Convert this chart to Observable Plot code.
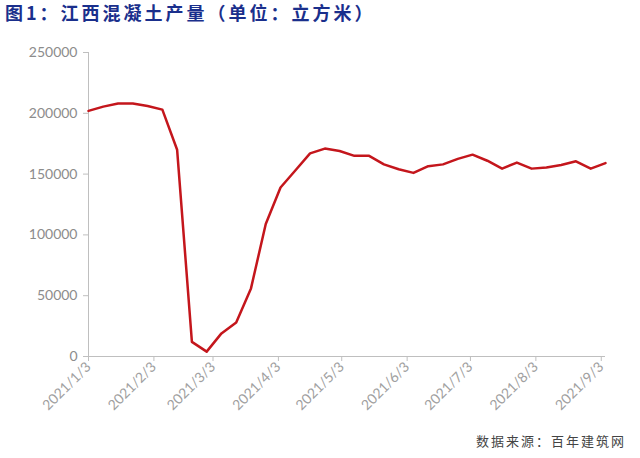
<!DOCTYPE html>
<html><head><meta charset="utf-8">
<script src="https://cdn.jsdelivr.net/npm/d3@7"></script>
<script src="https://cdn.jsdelivr.net/npm/@observablehq/plot@0.6"></script>
<style>
body{margin:0;background:#fff;width:640px;height:458px;overflow:hidden;font-family:Lato,sans-serif;}
#title{height:28px;line-height:24px;padding-left:5px;font-family:"Noto Sans CJK SC";font-weight:bold;font-size:18px;color:#1a2f8c;letter-spacing:3px;white-space:nowrap;}
#chart{height:400px;}
#caption{text-align:right;padding-right:14px;font-family:"Noto Sans CJK SC";font-size:13px;color:#444;letter-spacing:2px;margin-top:3px;}
</style></head><body>
<div id="title">图1：江西混凝土产量（单位：立方米）</div>
<div id="chart"></div>
<div id="caption">数据来源：百年建筑网</div>
<script>
const dates = ["2021-01-03","2021-01-10","2021-01-17","2021-01-24","2021-01-31","2021-02-07","2021-02-14","2021-02-21","2021-02-28","2021-03-07","2021-03-14","2021-03-21","2021-03-28","2021-04-04","2021-04-11","2021-04-18","2021-04-25","2021-05-02","2021-05-09","2021-05-16","2021-05-23","2021-05-30","2021-06-06","2021-06-13","2021-06-20","2021-06-27","2021-07-04","2021-07-11","2021-07-18","2021-07-25","2021-08-01","2021-08-08","2021-08-15","2021-08-22","2021-08-29","2021-09-05"];
const values = [202000,205500,208000,208000,206000,203000,170000,12000,4000,19000,28000,56000,109000,139000,153000,167000,171000,169000,165000,165000,158000,154000,151000,156500,158000,162500,166000,161000,154500,159500,154500,155500,157500,160500,154500,159000];
const xTickDates = ["2021-01-03","2021-02-03","2021-03-03","2021-04-03","2021-05-03","2021-06-03","2021-07-03","2021-08-03","2021-09-03"];
const yTicks = [0,50000,100000,150000,200000,250000];

const data = dates.map((d,i)=>({date:new Date(d), value:values[i]}));
const x0 = new Date(dates[0]);
const x1 = new Date(dates[dates.length-1]);
const fmt = d => `${d.getUTCFullYear()}/${d.getUTCMonth()+1}/${d.getUTCDate()}`;

const chart = Plot.plot({
  width: 640, height: 400,
  marginLeft: 88, marginRight: 35, marginTop: 24, marginBottom: 72,
  style: {fontFamily: "Lato, sans-serif", background: "#fff"},
  x: {type: "utc", domain: [x0, x1]},
  y: {domain: [0, 250000]},
  marks: [
    Plot.ruleX([x0], {y1: 0, y2: 250000, stroke: "#bfbfbf"}),
    Plot.ruleY([0], {stroke: "#bfbfbf"}),
    Plot.axisY({ticks: yTicks, tickFormat: d => String(d), tickSize: 5, tickPadding: 6, stroke: "#bfbfbf", fill: "#8c8c8c", fontSize: 14, label: null}),
    Plot.axisX({ticks: xTickDates.map(d => new Date(d)), tickFormat: fmt, tickRotate: -45, tickSize: 5, tickPadding: 3, stroke: "#bfbfbf", fill: "#a0a0a0", fontSize: 14, label: null}),
    Plot.lineY(data, {x: "date", y: "value", stroke: "#c4161c", strokeWidth: 2.5})
  ]
});
document.getElementById("chart").appendChild(chart);
</script>
</body></html>
